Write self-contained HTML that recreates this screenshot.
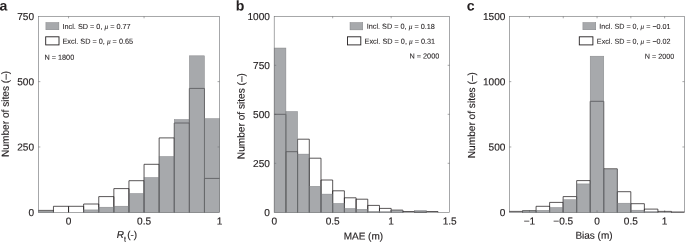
<!DOCTYPE html>
<html><head><meta charset="utf-8"><title>Histograms</title>
<style>
html,body{margin:0;padding:0;background:#fff;}
svg{display:block;}
text{font-family:"Liberation Sans",Arial,Helvetica,sans-serif;fill:#231f20;text-rendering:geometricPrecision;}
.t{font-size:10.1px;}
.l{font-size:10px;}
.yl{font-size:10.15px;}
.g{font-size:7.3px;}
.g2{font-size:7.2px;}
.b{font-size:14.1px;font-weight:bold;}
.t,.l,.yl{stroke:#231f20;stroke-width:0.15px;}
.g{stroke:#231f20;stroke-width:0.08px;}
.mu{font-family:"Liberation Serif","DejaVu Serif",serif;font-style:italic;}
</style></head>
<body>
<svg width="685" height="242" viewBox="0 0 685 242">
<rect width="685" height="242" fill="#fff"/>
<rect x="38.35" y="16.30" width="181.20" height="196.00" fill="none" stroke="#6d6e71" stroke-width="0.6"/>
<text x="34.05" y="19.90" transform="rotate(0.03 34.05 19.90)" text-anchor="end" class="t">750</text>
<path d="M38.35 81.63h2 M219.55 81.63h-2" stroke="#6d6e71" stroke-width="0.6"/>
<text x="34.05" y="85.23" transform="rotate(0.03 34.05 85.23)" text-anchor="end" class="t">500</text>
<path d="M38.35 146.97h2 M219.55 146.97h-2" stroke="#6d6e71" stroke-width="0.6"/>
<text x="34.05" y="150.57" transform="rotate(0.03 34.05 150.57)" text-anchor="end" class="t">250</text>
<text x="34.05" y="215.90" transform="rotate(0.03 34.05 215.90)" text-anchor="end" class="t">0</text>
<path d="M68.55 212.30v-2 M68.55 16.30v2" stroke="#6d6e71" stroke-width="0.6"/>
<text x="68.55" y="224.60" transform="rotate(0.03 68.55 224.60)" text-anchor="middle" class="t">0</text>
<path d="M144.05 212.30v-2 M144.05 16.30v2" stroke="#6d6e71" stroke-width="0.6"/>
<text x="144.05" y="224.60" transform="rotate(0.03 144.05 224.60)" text-anchor="middle" class="t">0.5</text>
<text x="219.55" y="224.60" transform="rotate(0.03 219.55 224.60)" text-anchor="middle" class="t">1</text>
<path d="M38.35 210.40H53.45V212.30" fill="none" stroke="#231f20" stroke-width="0.75"/>
<path d="M53.45 212.30V206.30H68.55V212.30" fill="none" stroke="#231f20" stroke-width="0.75"/>
<path d="M68.55 212.30V206.30H83.65V212.30" fill="none" stroke="#231f20" stroke-width="0.75"/>
<path d="M83.65 212.30V204.00H98.75V212.30" fill="none" stroke="#231f20" stroke-width="0.75"/>
<path d="M98.75 212.30V196.60H113.85V212.30" fill="none" stroke="#231f20" stroke-width="0.75"/>
<path d="M113.85 212.30V188.60H128.95V212.30" fill="none" stroke="#231f20" stroke-width="0.75"/>
<path d="M128.95 212.30V180.70H144.05V212.30" fill="none" stroke="#231f20" stroke-width="0.75"/>
<path d="M144.05 212.30V164.30H159.15V212.30" fill="none" stroke="#231f20" stroke-width="0.75"/>
<path d="M159.15 212.30V137.90H174.25V212.30" fill="none" stroke="#231f20" stroke-width="0.75"/>
<path d="M174.25 212.30V123.00H189.35V212.30" fill="none" stroke="#231f20" stroke-width="0.75"/>
<path d="M189.35 212.30V88.40H204.45V212.30" fill="none" stroke="#231f20" stroke-width="0.75"/>
<path d="M204.45 212.30V178.40H219.55" fill="none" stroke="#231f20" stroke-width="0.75"/>
<rect x="38.35" y="211.00" width="15.10" height="1.30" fill="#6c7075" fill-opacity="0.6" stroke="#77787b" stroke-width="0.5" stroke-opacity="0.8"/>
<rect x="83.65" y="209.90" width="15.10" height="2.40" fill="#6c7075" fill-opacity="0.6" stroke="#77787b" stroke-width="0.5" stroke-opacity="0.8"/>
<rect x="98.75" y="207.20" width="15.10" height="5.10" fill="#6c7075" fill-opacity="0.6" stroke="#77787b" stroke-width="0.5" stroke-opacity="0.8"/>
<rect x="113.85" y="206.20" width="15.10" height="6.10" fill="#6c7075" fill-opacity="0.6" stroke="#77787b" stroke-width="0.5" stroke-opacity="0.8"/>
<rect x="128.95" y="193.50" width="15.10" height="18.80" fill="#6c7075" fill-opacity="0.6" stroke="#77787b" stroke-width="0.5" stroke-opacity="0.8"/>
<rect x="144.05" y="177.50" width="15.10" height="34.80" fill="#6c7075" fill-opacity="0.6" stroke="#77787b" stroke-width="0.5" stroke-opacity="0.8"/>
<rect x="159.15" y="156.50" width="15.10" height="55.80" fill="#6c7075" fill-opacity="0.6" stroke="#77787b" stroke-width="0.5" stroke-opacity="0.8"/>
<rect x="174.25" y="119.50" width="15.10" height="92.80" fill="#6c7075" fill-opacity="0.6" stroke="#77787b" stroke-width="0.5" stroke-opacity="0.8"/>
<rect x="189.35" y="55.80" width="15.10" height="156.50" fill="#6c7075" fill-opacity="0.6" stroke="#77787b" stroke-width="0.5" stroke-opacity="0.8"/>
<rect x="204.45" y="118.60" width="15.10" height="93.70" fill="#6c7075" fill-opacity="0.6" stroke="#77787b" stroke-width="0.5" stroke-opacity="0.8"/>
<text transform="translate(8.70 113.90) rotate(-89.97)" text-anchor="middle" class="yl">Number of sites (–)</text>
<text x="127.00" y="237.90" transform="rotate(0.03 127.00 237.90)" text-anchor="middle" class="l"><tspan font-style="italic">R</tspan><tspan dy="3.5" font-size="7.2">t</tspan><tspan dy="-3.5" dx="1.2">(-)</tspan></text>
<text x="-0.50" y="10.40" transform="rotate(0.03 -0.50 10.40)" class="b">a</text>
<rect x="45.9" y="22.5" width="13.0" height="7.3" fill="#a7a9ac" stroke="#77787b" stroke-width="0.4"/>
<rect x="45.7" y="36.8" width="13.3" height="8.1" fill="#fff" stroke="#231f20" stroke-width="0.9"/>
<text x="62.50" y="28.90" transform="rotate(0.03 62.50 28.90)" class="g">Incl. SD = 0, <tspan class="mu">μ</tspan> = 0.77</text>
<text x="62.50" y="43.80" transform="rotate(0.03 62.50 43.80)" class="g">Excl. SD = 0, <tspan class="mu">μ</tspan> = 0.65</text>
<text x="44.40" y="59.80" transform="rotate(0.03 44.40 59.80)" class="g">N = 1800</text>
<rect x="274.20" y="16.30" width="175.45" height="196.00" fill="none" stroke="#6d6e71" stroke-width="0.6"/>
<text x="269.90" y="19.90" transform="rotate(0.03 269.90 19.90)" text-anchor="end" class="t">1000</text>
<path d="M274.20 65.30h2 M449.65 65.30h-2" stroke="#6d6e71" stroke-width="0.6"/>
<text x="269.90" y="68.90" transform="rotate(0.03 269.90 68.90)" text-anchor="end" class="t">750</text>
<path d="M274.20 114.30h2 M449.65 114.30h-2" stroke="#6d6e71" stroke-width="0.6"/>
<text x="269.90" y="117.90" transform="rotate(0.03 269.90 117.90)" text-anchor="end" class="t">500</text>
<path d="M274.20 163.30h2 M449.65 163.30h-2" stroke="#6d6e71" stroke-width="0.6"/>
<text x="269.90" y="166.90" transform="rotate(0.03 269.90 166.90)" text-anchor="end" class="t">250</text>
<text x="269.90" y="215.90" transform="rotate(0.03 269.90 215.90)" text-anchor="end" class="t">0</text>
<text x="274.20" y="224.60" transform="rotate(0.03 274.20 224.60)" text-anchor="middle" class="t">0</text>
<path d="M332.68 212.30v-2 M332.68 16.30v2" stroke="#6d6e71" stroke-width="0.6"/>
<text x="332.68" y="224.60" transform="rotate(0.03 332.68 224.60)" text-anchor="middle" class="t">0.5</text>
<path d="M391.17 212.30v-2 M391.17 16.30v2" stroke="#6d6e71" stroke-width="0.6"/>
<text x="391.17" y="224.60" transform="rotate(0.03 391.17 224.60)" text-anchor="middle" class="t">1</text>
<text x="449.65" y="224.60" transform="rotate(0.03 449.65 224.60)" text-anchor="middle" class="t">1.5</text>
<path d="M274.20 114.30H285.90V212.30" fill="none" stroke="#231f20" stroke-width="0.75"/>
<path d="M285.90 212.30V151.70H297.59V212.30" fill="none" stroke="#231f20" stroke-width="0.75"/>
<path d="M297.59 212.30V139.20H309.29V212.30" fill="none" stroke="#231f20" stroke-width="0.75"/>
<path d="M309.29 212.30V158.20H320.99V212.30" fill="none" stroke="#231f20" stroke-width="0.75"/>
<path d="M320.99 212.30V180.00H332.68V212.30" fill="none" stroke="#231f20" stroke-width="0.75"/>
<path d="M332.68 212.30V190.80H344.38V212.30" fill="none" stroke="#231f20" stroke-width="0.75"/>
<path d="M344.38 212.30V197.80H356.08V212.30" fill="none" stroke="#231f20" stroke-width="0.75"/>
<path d="M356.08 212.30V199.20H367.77V212.30" fill="none" stroke="#231f20" stroke-width="0.75"/>
<path d="M367.77 212.30V205.40H379.47V212.30" fill="none" stroke="#231f20" stroke-width="0.75"/>
<path d="M379.47 212.30V208.40H391.17V212.30" fill="none" stroke="#231f20" stroke-width="0.75"/>
<path d="M391.17 212.30V210.10H402.86V212.30" fill="none" stroke="#231f20" stroke-width="0.75"/>
<path d="M402.86 212.30V211.50H414.56V212.30" fill="none" stroke="#231f20" stroke-width="0.75"/>
<path d="M414.56 212.30V212.10H426.26V212.30" fill="none" stroke="#231f20" stroke-width="0.75"/>
<path d="M426.26 212.30V211.50H437.95V212.30" fill="none" stroke="#231f20" stroke-width="0.75"/>
<rect x="274.20" y="48.00" width="11.70" height="164.30" fill="#6c7075" fill-opacity="0.6" stroke="#77787b" stroke-width="0.5" stroke-opacity="0.8"/>
<rect x="285.90" y="111.50" width="11.70" height="100.80" fill="#6c7075" fill-opacity="0.6" stroke="#77787b" stroke-width="0.5" stroke-opacity="0.8"/>
<rect x="297.59" y="154.10" width="11.70" height="58.20" fill="#6c7075" fill-opacity="0.6" stroke="#77787b" stroke-width="0.5" stroke-opacity="0.8"/>
<rect x="309.29" y="186.30" width="11.70" height="26.00" fill="#6c7075" fill-opacity="0.6" stroke="#77787b" stroke-width="0.5" stroke-opacity="0.8"/>
<rect x="320.99" y="194.10" width="11.70" height="18.20" fill="#6c7075" fill-opacity="0.6" stroke="#77787b" stroke-width="0.5" stroke-opacity="0.8"/>
<rect x="332.68" y="203.40" width="11.70" height="8.90" fill="#6c7075" fill-opacity="0.6" stroke="#77787b" stroke-width="0.5" stroke-opacity="0.8"/>
<rect x="344.38" y="208.50" width="11.70" height="3.80" fill="#6c7075" fill-opacity="0.6" stroke="#77787b" stroke-width="0.5" stroke-opacity="0.8"/>
<rect x="356.08" y="209.30" width="11.70" height="3.00" fill="#6c7075" fill-opacity="0.6" stroke="#77787b" stroke-width="0.5" stroke-opacity="0.8"/>
<rect x="367.77" y="211.30" width="11.70" height="1.00" fill="#6c7075" fill-opacity="0.6" stroke="#77787b" stroke-width="0.5" stroke-opacity="0.8"/>
<rect x="379.47" y="211.60" width="11.70" height="0.70" fill="#6c7075" fill-opacity="0.6" stroke="#77787b" stroke-width="0.5" stroke-opacity="0.8"/>
<rect x="391.17" y="210.40" width="11.70" height="1.90" fill="#6c7075" fill-opacity="0.6" stroke="#77787b" stroke-width="0.5" stroke-opacity="0.8"/>
<rect x="414.56" y="210.50" width="11.70" height="1.80" fill="#6c7075" fill-opacity="0.6" stroke="#77787b" stroke-width="0.5" stroke-opacity="0.8"/>
<text transform="translate(244.60 116.10) rotate(-89.97)" text-anchor="middle" class="yl">Number of sites (–)</text>
<text x="363.40" y="239.50" transform="rotate(0.03 363.40 239.50)" text-anchor="middle" class="l">MAE (m)</text>
<text x="235.70" y="10.40" transform="rotate(0.03 235.70 10.40)" class="b">b</text>
<rect x="350.0" y="22.5" width="12.8" height="7.4" fill="#a7a9ac" stroke="#77787b" stroke-width="0.4"/>
<rect x="347.5" y="36.8" width="13.3" height="8.1" fill="#fff" stroke="#231f20" stroke-width="0.9"/>
<text x="434.90" y="28.90" transform="rotate(0.03 434.90 28.90)" text-anchor="end" class="g">Incl. SD = 0, <tspan class="mu">μ</tspan> = 0.18</text>
<text x="435.20" y="43.80" transform="rotate(0.03 435.20 43.80)" text-anchor="end" class="g">Excl. SD = 0, <tspan class="mu">μ</tspan> = 0.31</text>
<text x="439.30" y="58.60" transform="rotate(0.03 439.30 58.60)" text-anchor="end" class="g">N = 2000</text>
<rect x="509.30" y="16.30" width="175.10" height="196.00" fill="none" stroke="#6d6e71" stroke-width="0.6"/>
<text x="505.40" y="19.90" transform="rotate(0.03 505.40 19.90)" text-anchor="end" class="t">1500</text>
<path d="M509.30 81.63h2 M684.40 81.63h-2" stroke="#6d6e71" stroke-width="0.6"/>
<text x="505.40" y="85.23" transform="rotate(0.03 505.40 85.23)" text-anchor="end" class="t">1000</text>
<path d="M509.30 146.97h2 M684.40 146.97h-2" stroke="#6d6e71" stroke-width="0.6"/>
<text x="505.40" y="150.57" transform="rotate(0.03 505.40 150.57)" text-anchor="end" class="t">500</text>
<text x="505.40" y="215.90" transform="rotate(0.03 505.40 215.90)" text-anchor="end" class="t">0</text>
<path d="M529.45 212.30v-2 M529.45 16.30v2" stroke="#6d6e71" stroke-width="0.6"/>
<text x="529.45" y="224.60" transform="rotate(0.03 529.45 224.60)" text-anchor="middle" class="t">−1</text>
<path d="M563.25 212.30v-2 M563.25 16.30v2" stroke="#6d6e71" stroke-width="0.6"/>
<text x="563.25" y="224.60" transform="rotate(0.03 563.25 224.60)" text-anchor="middle" class="t">−0.5</text>
<path d="M597.05 212.30v-2 M597.05 16.30v2" stroke="#6d6e71" stroke-width="0.6"/>
<text x="597.05" y="224.60" transform="rotate(0.03 597.05 224.60)" text-anchor="middle" class="t">0</text>
<path d="M630.85 212.30v-2 M630.85 16.30v2" stroke="#6d6e71" stroke-width="0.6"/>
<text x="630.85" y="224.60" transform="rotate(0.03 630.85 224.60)" text-anchor="middle" class="t">0.5</text>
<path d="M664.65 212.30v-2 M664.65 16.30v2" stroke="#6d6e71" stroke-width="0.6"/>
<text x="664.65" y="224.60" transform="rotate(0.03 664.65 224.60)" text-anchor="middle" class="t">1</text>
<path d="M509.30 211.40H522.54V212.30" fill="none" stroke="#231f20" stroke-width="0.75"/>
<path d="M522.54 212.30V210.70H536.07V212.30" fill="none" stroke="#231f20" stroke-width="0.75"/>
<path d="M536.07 212.30V206.30H549.61V212.30" fill="none" stroke="#231f20" stroke-width="0.75"/>
<path d="M549.61 212.30V202.40H563.14V212.30" fill="none" stroke="#231f20" stroke-width="0.75"/>
<path d="M563.14 212.30V196.60H576.68V212.30" fill="none" stroke="#231f20" stroke-width="0.75"/>
<path d="M576.68 212.30V180.60H590.22V212.30" fill="none" stroke="#231f20" stroke-width="0.75"/>
<path d="M590.22 212.30V101.30H603.75V212.30" fill="none" stroke="#231f20" stroke-width="0.75"/>
<path d="M603.75 212.30V168.80H617.29V212.30" fill="none" stroke="#231f20" stroke-width="0.75"/>
<path d="M617.29 212.30V191.70H630.82V212.30" fill="none" stroke="#231f20" stroke-width="0.75"/>
<path d="M630.82 212.30V203.70H644.36V212.30" fill="none" stroke="#231f20" stroke-width="0.75"/>
<path d="M644.36 212.30V209.10H657.90V212.30" fill="none" stroke="#231f20" stroke-width="0.75"/>
<path d="M657.90 212.30V211.40H671.43V212.30" fill="none" stroke="#231f20" stroke-width="0.75"/>
<path d="M671.43 212.30V212.00H684.40" fill="none" stroke="#231f20" stroke-width="0.75"/>
<rect x="522.54" y="210.90" width="13.54" height="1.40" fill="#6c7075" fill-opacity="0.6" stroke="#77787b" stroke-width="0.5" stroke-opacity="0.8"/>
<rect x="536.07" y="210.30" width="13.54" height="2.00" fill="#6c7075" fill-opacity="0.6" stroke="#77787b" stroke-width="0.5" stroke-opacity="0.8"/>
<rect x="549.61" y="207.50" width="13.54" height="4.80" fill="#6c7075" fill-opacity="0.6" stroke="#77787b" stroke-width="0.5" stroke-opacity="0.8"/>
<rect x="563.14" y="199.70" width="13.54" height="12.60" fill="#6c7075" fill-opacity="0.6" stroke="#77787b" stroke-width="0.5" stroke-opacity="0.8"/>
<rect x="576.68" y="183.90" width="13.54" height="28.40" fill="#6c7075" fill-opacity="0.6" stroke="#77787b" stroke-width="0.5" stroke-opacity="0.8"/>
<rect x="590.22" y="56.20" width="13.54" height="156.10" fill="#6c7075" fill-opacity="0.6" stroke="#77787b" stroke-width="0.5" stroke-opacity="0.8"/>
<rect x="603.75" y="169.40" width="13.54" height="42.90" fill="#6c7075" fill-opacity="0.6" stroke="#77787b" stroke-width="0.5" stroke-opacity="0.8"/>
<rect x="617.29" y="203.20" width="13.54" height="9.10" fill="#6c7075" fill-opacity="0.6" stroke="#77787b" stroke-width="0.5" stroke-opacity="0.8"/>
<rect x="630.82" y="210.20" width="13.54" height="2.10" fill="#6c7075" fill-opacity="0.6" stroke="#77787b" stroke-width="0.5" stroke-opacity="0.8"/>
<rect x="644.36" y="211.50" width="13.54" height="0.80" fill="#6c7075" fill-opacity="0.6" stroke="#77787b" stroke-width="0.5" stroke-opacity="0.8"/>
<text transform="translate(474.90 115.20) rotate(-89.97)" text-anchor="middle" class="yl">Number of sites (–)</text>
<text x="594.00" y="238.80" transform="rotate(0.03 594.00 238.80)" text-anchor="middle" class="l">Bias (m)</text>
<text x="466.70" y="10.40" transform="rotate(0.03 466.70 10.40)" class="b">c</text>
<rect x="582.9" y="22.5" width="12.9" height="7.3" fill="#a7a9ac" stroke="#77787b" stroke-width="0.4"/>
<rect x="579.3" y="36.8" width="13.6" height="8.1" fill="#fff" stroke="#231f20" stroke-width="0.9"/>
<text x="670.60" y="28.90" transform="rotate(0.03 670.60 28.90)" text-anchor="end" class="g g2">Incl. SD = 0, <tspan class="mu">μ</tspan> = −0.01</text>
<text x="670.60" y="43.80" transform="rotate(0.03 670.60 43.80)" text-anchor="end" class="g g2">Excl. SD = 0, <tspan class="mu">μ</tspan> = −0.02</text>
<text x="674.20" y="58.80" transform="rotate(0.03 674.20 58.80)" text-anchor="end" class="g g2">N = 2000</text>
</svg>
</body></html>
